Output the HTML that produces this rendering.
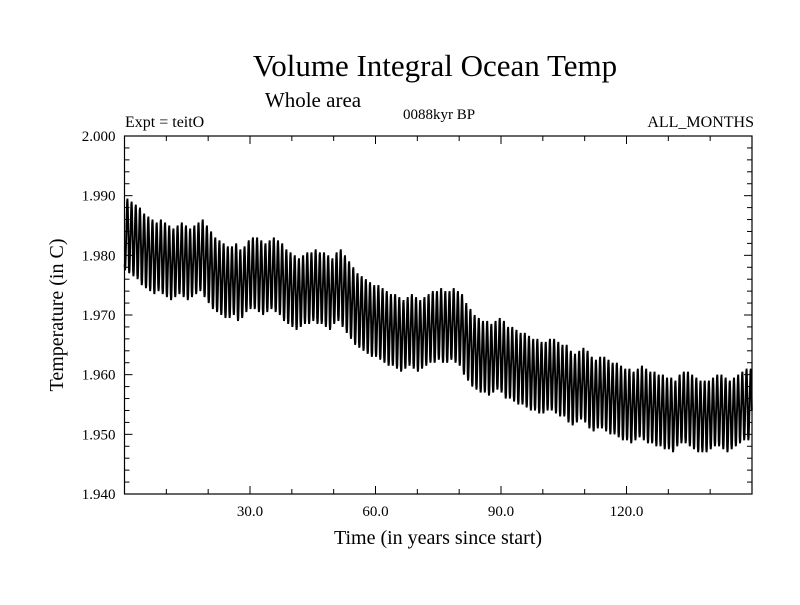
<!DOCTYPE html>
<html><head><meta charset="utf-8"><style>
body{margin:0;background:#fff;}
svg text{font-family:"Liberation Serif",serif;fill:#000;}
</style></head><body>
<svg id="chart" width="800" height="600" viewBox="0 0 800 600">
<text x="435" y="76" font-size="31" text-anchor="middle">Volume Integral Ocean Temp</text>
<text x="313" y="107" font-size="21" text-anchor="middle">Whole area</text>
<text x="125" y="127" font-size="16">Expt = teitO</text>
<text x="439" y="119" font-size="15" text-anchor="middle">0088kyr BP</text>
<text x="754" y="127" font-size="16" text-anchor="end">ALL_MONTHS</text>
<text x="438" y="544" font-size="20" text-anchor="middle">Time (in years since start)</text>
<text x="0" y="0" font-size="20" text-anchor="middle" transform="translate(63,315) rotate(-90)">Temperature (in C)</text>
<g id="plot"></g>
</svg>
<script>
const xTicks=[30,60,90,120];
const xTickLabels=["30.0","60.0","90.0","120.0"];
const yTicks=[1.94,1.95,1.96,1.97,1.98,1.99,2.0];
const yTickLabels=["1.940","1.950","1.960","1.970","1.980","1.990","2.000"];
const annualMeans=[
1.9835,1.983,1.9825,1.982,1.981,1.9805,1.980,1.9795,1.980,1.9795,
1.979,1.9785,1.979,1.9795,1.979,1.9785,1.979,1.9795,1.980,1.979,
1.978,1.977,1.9765,1.976,1.9755,1.9755,1.976,1.975,1.9755,1.9765,
1.977,1.977,1.9765,1.976,1.9765,1.977,1.9765,1.976,1.975,1.9745,
1.974,1.9735,1.974,1.9745,1.9745,1.975,1.9745,1.9745,1.974,1.9735,
1.9745,1.975,1.974,1.973,1.972,1.971,1.9705,1.970,1.9695,1.969,
1.969,1.9685,1.968,1.9675,1.9675,1.967,1.9665,1.967,1.9675,1.967,
1.9665,1.967,1.9675,1.968,1.968,1.9685,1.968,1.968,1.9685,1.968,
1.9675,1.966,1.965,1.964,1.9635,1.963,1.963,1.9625,1.963,1.9635,
1.963,1.962,1.962,1.9615,1.961,1.961,1.9605,1.960,1.960,1.9595,
1.9595,1.960,1.960,1.9595,1.959,1.959,1.958,1.9575,1.958,1.9585,
1.958,1.957,1.9565,1.957,1.957,1.9565,1.956,1.956,1.9555,1.955,
1.955,1.9545,1.955,1.9555,1.955,1.9545,1.9545,1.954,1.954,1.9535,
1.9535,1.953,1.954,1.9545,1.9545,1.954,1.9535,1.953,1.953,1.953,
1.9535,1.954,1.954,1.9535,1.953,1.9535,1.954,1.9545,1.955,1.955];
const seasonalAnomaly=[-0.005,-0.006,-0.0055,-0.0035,-0.001,0.001,0.0035,0.0055,0.006,0.0045,0.002,-0.001];

const L=124.5,R=752,T=136,B=494,x0=0,x1=150,y0=1.94,y1=2.0;
const xs=v=>L+(v-x0)/(x1-x0)*(R-L);
const ys=v=>B-(v-y0)/(y1-y0)*(B-T);
const NS="http://www.w3.org/2000/svg";
const g=document.getElementById('plot');
function mk(tag,attrs){const e=document.createElementNS(NS,tag);for(const k in attrs)e.setAttribute(k,attrs[k]);g.appendChild(e);return e;}

let pts=[];
annualMeans.forEach((m,yr)=>{seasonalAnomaly.forEach((a,mo)=>{const t=yr+(mo+0.5)/12;pts.push(xs(t).toFixed(2)+","+ys(m+a).toFixed(2));});});
const line=mk('polyline',{points:pts.join(' '),fill:'none',stroke:'#000','stroke-width':1.9,'stroke-linejoin':'miter'});



const fr=mk('rect',{x:L,y:T,width:R-L,height:B-T,fill:'none',stroke:'#000','stroke-width':1.2});



for(let v=10;v<150;v+=10){const major=v%30===0;const len=major?8:5;
 const t1=mk('line',{x1:xs(v),x2:xs(v),y1:B,y2:B-len,stroke:'#000','stroke-width':1});
 
 
 const t2=mk('line',{x1:xs(v),x2:xs(v),y1:T,y2:T+len,stroke:'#000','stroke-width':1});
 
 }
xTicks.forEach((v,i)=>{const t=mk('text',{x:xs(v),y:B+22,'font-size':15,'text-anchor':'middle'});t.textContent=xTickLabels[i];
 
 });
for(let k=0;k<=30;k++){const v=y0+k*0.002;const major=k%5===0;const len=major?8:5;
 const t1=mk('line',{x1:L,x2:L+len,y1:ys(v),y2:ys(v),stroke:'#000','stroke-width':1});
 
 
 const t2=mk('line',{x1:R,x2:R-len,y1:ys(v),y2:ys(v),stroke:'#000','stroke-width':1});
 
 }
yTicks.forEach((v,i)=>{const t=mk('text',{x:L-9,y:ys(v)+5,'font-size':15,'text-anchor':'end'});t.textContent=yTickLabels[i];
 
 });
</script>
</body></html>
